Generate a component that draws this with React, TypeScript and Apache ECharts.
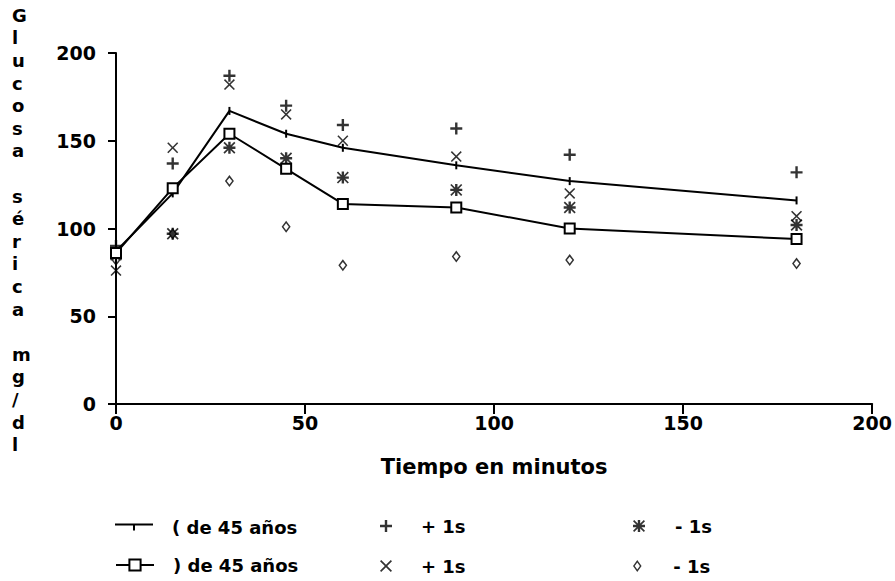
import React, { useEffect, useRef } from "react";
import * as echarts from "echarts";

const times = [0, 15, 30, 45, 60, 90, 120, 180];
const under45 = [87, 120, 167, 154, 146, 136, 127, 116];
const over45 = [86, 123, 154, 134, 114, 112, 100, 94];
const under45Plus = [90, 137, 187, 170, 159, 157, 142, 132];
const over45Plus = [76, 146, 182, 165, 150, 141, 120, 107];
const under45Minus = [85, 97, 146, 140, 129, 122, 112, 102];
const over45Minus = [82, 97, 127, 101, 79, 84, 82, 80];

const xTicks = [0, 50, 100, 150, 200];
const yTicks = [0, 50, 100, 150, 200];

const names = {
  l1: "( de 45 años",
  l2: ") de 45 años",
  p1: "+ 1s",
  p2: "+ 1s ",
  m1: "- 1s",
  m2: "- 1s ",
};

const yTitleLetters = ["G", "l", "u", "c", "o", "s", "a", "", "s", "é", "r", "i", "c", "a", "", "m", "g", "/", "d", "l"];

const PLUS = "path://M4,0H6V4H10V6H6V10H4V6H0V4H4Z";
const CROSS = "path://M1,0L5,4L9,0L10,1L6,5L10,9L9,10L5,6L1,10L0,9L4,5L0,1Z";
const STAR = "path://M4,0H6V4H10V6H6V10H4V6H0V4H4Z M1,0L5,4L9,0L10,1L6,5L10,9L9,10L5,6L1,10L0,9L4,5L0,1Z";
const DIAMOND = "path://M5,0L10,7L5,14L0,7Z M5,3L2,7L5,11L8,7Z";
const TICK = "path://M0,0H2V10H0Z";
const LINE_TICK = "path://M0,3H38V5H0Z M18,5H20V10H18Z";

const FONT = "DejaVu Sans";

function pairs(vals: number[]) {
  return times.map((t, i) => [t, vals[i]]);
}

export default function App() {
  const ref = useRef<HTMLDivElement>(null);
  useEffect(() => {
    if (!ref.current) return;
    const chart = echarts.init(ref.current, undefined, { renderer: "svg" });
    const legendBase = {
      orient: "horizontal" as const,
      padding: 0,
      selectedMode: false,
      textStyle: { color: "#000", fontFamily: FONT, fontWeight: "bold" as const, fontSize: 18 },
    };
    chart.setOption({
      animation: false,
      backgroundColor: "#fff",
      grid: { left: 116, right: 18, top: 53, bottom: 177, containLabel: false },
      xAxis: {
        type: "value",
        min: 0,
        max: 200,
        interval: 50,
        name: "Tiempo en minutos",
        nameLocation: "middle",
        nameGap: 52,
        nameTextStyle: { color: "#000", fontFamily: FONT, fontWeight: "bold", fontSize: 21 },
        axisLine: { show: true, lineStyle: { color: "#000", width: 2 } },
        axisTick: { show: true, length: 10, lineStyle: { color: "#000", width: 2 } },
        axisLabel: {
          color: "#000",
          fontFamily: FONT,
          fontWeight: "bold",
          fontSize: 19,
          margin: 9,
          formatter: (v: number) => (xTicks.includes(v) ? String(v) : ""),
        },
        splitLine: { show: false },
      },
      yAxis: {
        type: "value",
        min: 0,
        max: 200,
        interval: 50,
        axisLine: { show: true, lineStyle: { color: "#000", width: 2 } },
        axisTick: { show: true, length: 8, lineStyle: { color: "#000", width: 2 } },
        axisLabel: {
          color: "#000",
          fontFamily: FONT,
          fontWeight: "bold",
          fontSize: 19,
          margin: 20,
          formatter: (v: number) => (yTicks.includes(v) ? String(v) : ""),
        },
        splitLine: { show: false },
      },
      graphic: [
        {
          type: "text",
          left: 12,
          top: 4,
          style: {
            text: yTitleLetters.join("\n"),
            fill: "#000",
            font: `bold 18px "${FONT}"`,
            lineHeight: 22.6,
            align: "center",
          },
        },
      ],
      legend: [
        { ...legendBase, left: 115, top: 518, itemWidth: 38, itemHeight: 10, data: [{ name: names.l1, icon: LINE_TICK }], textStyle: { ...legendBase.textStyle, padding: [0, 0, 0, 14] } },
        { ...legendBase, left: 115, top: 556, itemWidth: 38, itemHeight: 14, data: [names.l2], textStyle: { ...legendBase.textStyle, padding: [0, 0, 0, 14] } },
        { ...legendBase, left: 380, top: 517, itemWidth: 60, itemHeight: 12, data: [{ name: names.p1, icon: PLUS }] },
        { ...legendBase, left: 380, top: 557, itemWidth: 60, itemHeight: 12, data: [{ name: names.p2, icon: CROSS }] },
        { ...legendBase, left: 633, top: 517, itemWidth: 62, itemHeight: 12, data: [{ name: names.m1, icon: STAR }] },
        { ...legendBase, left: 633, top: 557, itemWidth: 62, itemHeight: 12, data: [{ name: names.m2, icon: DIAMOND }] },
      ],
      series: [
        {
          name: names.l1,
          type: "line",
          data: pairs(under45),
          symbol: TICK,
          symbolSize: [2, 8],
          lineStyle: { color: "#000", width: 2 },
          itemStyle: { color: "#000" },
          z: 3,
        },
        {
          name: names.l2,
          type: "line",
          data: pairs(over45),
          symbol: "emptyRect",
          symbolSize: 10,
          lineStyle: { color: "#000", width: 2 },
          itemStyle: { color: "#000", borderColor: "#000", borderWidth: 2 },
          z: 3,
        },
        {
          name: names.p1,
          type: "scatter",
          data: pairs(under45Plus),
          symbol: PLUS,
          symbolSize: 12,
          itemStyle: { color: "#000" },
        },
        {
          name: names.p2,
          type: "scatter",
          data: pairs(over45Plus),
          symbol: CROSS,
          symbolSize: 11,
          itemStyle: { color: "#000" },
        },
        {
          name: names.m1,
          type: "scatter",
          data: pairs(under45Minus),
          symbol: STAR,
          symbolSize: 12,
          itemStyle: { color: "#000" },
        },
        {
          name: names.m2,
          type: "scatter",
          data: pairs(over45Minus),
          symbol: DIAMOND,
          symbolSize: [9, 12],
          itemStyle: { color: "#000" },
        },
      ],
    });
    return () => chart.dispose();
  }, []);
  return <div ref={ref} style={{ width: 895, height: 581, position: "absolute", left: 0, top: 0 }} />;
}
